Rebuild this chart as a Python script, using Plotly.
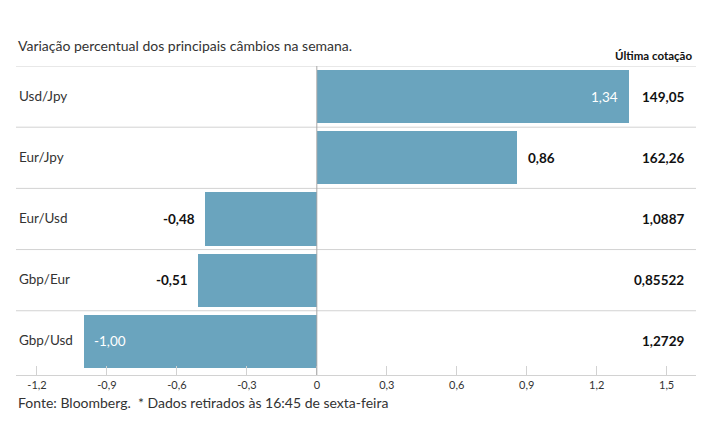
import plotly.graph_objects as go

categories = ["Usd/Jpy", "Eur/Jpy", "Eur/Usd", "Gbp/Eur", "Gbp/Usd"]
values = [1.34, 0.86, -0.48, -0.51, -1.00]
quotes = ["149,05", "162,26", "1,0887", "0,85522", "1,2729"]
label_inside = [True, False, False, False, True]
tick_vals = [-1.2, -0.9, -0.6, -0.3, 0, 0.3, 0.6, 0.9, 1.2, 1.5]
tick_text = ["-1,2", "-0,9", "-0,6", "-0,3", "0", "0,3", "0,6", "0,9", "1,2", "1,5"]

FONT = "Lato"
BAR = "#6aa4be"
TXT = "#333333"
GRID = "#d2d2d2"

ypos = list(range(len(categories)))

fig = go.Figure()
fig.add_trace(go.Bar(
    x=values, y=ypos, orientation="h", width=0.87,
    marker=dict(color=BAR, line=dict(width=0)),
    hoverinfo="skip",
))

shapes = []
for i in range(len(categories)):
    shapes.append(dict(type="line", xref="paper", yref="y", x0=0, x1=1,
                       y0=i - 0.5, y1=i - 0.5, line=dict(color=GRID, width=1), layer="below"))
shapes.append(dict(type="line", xref="x", yref="paper", x0=0, x1=0, y0=0, y1=1,
                   line=dict(color="#a8a8a8", width=1), layer="above"))

ann = []
for i, (c, v, q, ins) in enumerate(zip(categories, values, quotes, label_inside)):
    ann.append(dict(x=0, xref="paper", y=i, yref="y", text=c, showarrow=False,
                    xanchor="left", xshift=1, yshift=1,
                    font=dict(family=FONT, size=13.5, color=TXT)))
    txt = f"{v:.2f}".replace(".", ",")
    if v >= 0:
        anchor = "right" if ins else "left"
        shift = -9 if ins else 9
    else:
        anchor = "left" if ins else "right"
        shift = 8 if ins else -8
    ann.append(dict(x=v, xref="x", y=i, yref="y", text=txt if ins else f"<b>{txt}</b>",
                    showarrow=False, xanchor=anchor, xshift=shift,
                    font=dict(family=FONT, size=13.5, color="white" if ins else "#111111")))
    ann.append(dict(x=1, xref="paper", y=i, yref="y", text=f"<b>{q}</b>", showarrow=False,
                    xanchor="right", xshift=-10, font=dict(family=FONT, size=13.5, color="#111111")))

ann.append(dict(x=1, xref="paper", y=1, yref="paper", yshift=11, yanchor="middle",
                text="<b>Última cotação</b>",
                showarrow=False, xanchor="right", xshift=-2,
                font=dict(family=FONT, size=11.5, color="#111111")))

fig.update_layout(
    width=715, height=445,
    margin=dict(l=16, r=19, t=66, b=70),
    paper_bgcolor="white", plot_bgcolor="white",
    separators=", ",
    showlegend=False,
    bargap=0,
    font=dict(family=FONT, color=TXT),
    xaxis=dict(range=[-1.29, 1.626], tickvals=tick_vals, ticktext=tick_text,
               ticks="inside", ticklen=9, tickcolor=GRID, tickwidth=1,
               showline=True, linecolor=GRID, linewidth=1,
               showgrid=False, zeroline=False,
               tickfont=dict(family=FONT, size=11, color=TXT), fixedrange=True),
    yaxis=dict(range=[4.55, -0.5], showticklabels=False, showgrid=False,
               zeroline=False, showline=False, ticks="", fixedrange=True),
    shapes=shapes,
    annotations=ann,
)

fig.add_annotation(x=0, xref="paper", y=1, yref="paper", yshift=21, yanchor="middle",
                   text="Variação percentual dos principais câmbios na semana.",
                   showarrow=False, xanchor="left", xshift=0,
                   font=dict(family=FONT, size=14, color=TXT))
fig.add_annotation(x=0, xref="paper", y=0, yref="paper", yshift=-27, yanchor="middle",
                   text="Fonte: Bloomberg.  * Dados retirados às 16:45 de sexta-feira",
                   showarrow=False, xanchor="left", xshift=0,
                   font=dict(family=FONT, size=14, color=TXT))

fig.write_html("out.html")
